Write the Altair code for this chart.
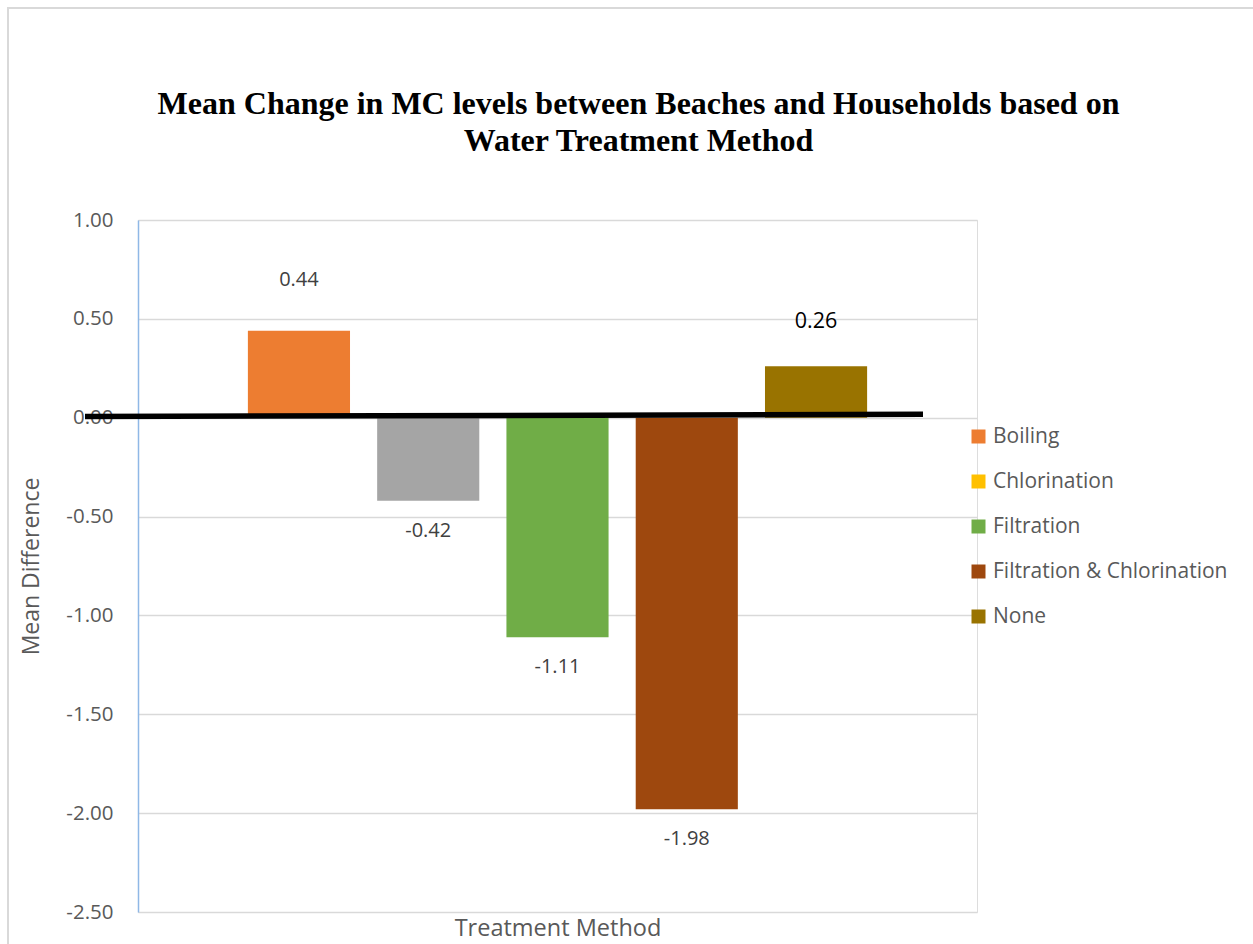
import altair as alt
import pandas as pd

# Mean change in MC levels (beach minus household) by water treatment method
methods = ["Boiling", "Chlorination", "Filtration", "Filtration & Chlorination", "None"]
mean_diff = [0.44, -0.42, -1.11, -1.98, 0.26]

# Series colours shown in the legend; the Chlorination bar itself is drawn grey
legend_colors = ["#ED7D31", "#FFC000", "#70AD47", "#9E480E", "#997300"]
chlorination_bar_color = "#A5A5A5"

y_ticks = [1.0, 0.5, 0.0, -0.5, -1.0, -1.5, -2.0, -2.5]
# the hand-drawn zero line runs very slightly uphill from left to right
zero_line_ends = [0.006, 0.017]

df = pd.DataFrame({
    "method": methods,
    "diff": mean_diff,
    "label": [f"{v:.2f}" for v in mean_diff],
})
one_row = pd.DataFrame({"k": [0]})

FONT = "Open Sans"
GREY_TEXT = "#595959"

x_enc = alt.X(
    "method:N",
    sort=methods,
    scale=alt.Scale(domain=methods, paddingInner=0.21, paddingOuter=0.85),
    axis=alt.Axis(
        title="Treatment Method", labels=False, ticks=False, domain=False, grid=False,
        titleFont=FONT, titleFontSize=23.5, titleFontWeight="normal",
        titleColor=GREY_TEXT, titlePadding=4,
    ),
)
y_enc = alt.Y(
    "diff:Q",
    scale=alt.Scale(domain=[-2.5, 1.0], nice=False, zero=False),
    axis=alt.Axis(
        values=y_ticks,
        labelExpr="replace(format(datum.value, '.2f'), '\u2212', '-')",
        labelFont=FONT, labelFontSize=20.5, labelColor=GREY_TEXT, labelPadding=25,
        ticks=False,
        domainColor="#8FB8E6", domainWidth=1.5,
        grid=True, gridColor="#D9D9D9", gridWidth=1.5,
        title="Mean Difference", titleFont=FONT, titleFontSize=23,
        titleFontWeight="normal", titleColor=GREY_TEXT,
        titleAngle=270, titleX=-107, titleY=346,
        titleAlign="center", titleBaseline="middle",
    ),
)

base = alt.Chart(df)

bars = base.mark_bar().encode(
    x=x_enc,
    y=y_enc,
    color=alt.condition(
        "datum.method === 'Chlorination'",
        alt.value(chlorination_bar_color),
        alt.Color(
            "method:N",
            sort=methods,
            scale=alt.Scale(domain=methods, range=legend_colors),
            legend=alt.Legend(
                title=None, orient="none", legendX=830, legendY=206,
                symbolType="square", symbolSize=196, symbolStrokeWidth=0,
                labelFont=FONT, labelFontSize=21, labelColor=GREY_TEXT,
                labelOffset=4, rowPadding=23, labelLimit=400,
            ),
        ),
    ),
)

label_style = dict(font=FONT, fontSize=20, color="#404040", baseline="middle")

neg_labels = base.transform_filter("datum.diff < 0").mark_text(dy=30, **label_style).encode(
    x=x_enc, y="diff:Q", text="label:N"
)
boiling_label = base.transform_filter("datum.method === 'Boiling'").mark_text(
    dy=-51, **label_style
).encode(x=x_enc, y="diff:Q", text="label:N")
none_label = base.transform_filter("datum.method === 'None'").mark_text(
    dy=-44, font=FONT, fontSize=21.5, color="#000000", baseline="middle"
).encode(x=x_enc, y="diff:Q", text="label:N")

zero_line = alt.Chart(one_row).mark_rule(color="#000000", strokeWidth=5.5, strokeCap="butt").encode(
    x=alt.value(-53), x2=alt.value(785),
    y=alt.datum(zero_line_ends[0]), y2=alt.datum(zero_line_ends[1]),
)

# light outline of the chart area
frame = alt.Chart(one_row).mark_rect(
    fillOpacity=0, stroke="#D9D9D9", strokeWidth=2
).encode(
    x=alt.value(-130), x2=alt.value(1125),
    y=alt.value(-212), y2=alt.value(760),
)

chart = alt.layer(frame, bars, neg_labels, boiling_label, none_label, zero_line).properties(
    width=839,
    height=692,
    title=alt.TitleParams(
        text=["Mean Change in MC levels between Beaches and Households based on",
              "Water Treatment Method"],
        font="Liberation Serif", fontSize=32, fontWeight="bold", color="#000000",
        anchor="middle", frame="group", dx=81, baseline="alphabetic",
        offset=-176, lineHeight=37.5,
    ),
    autosize=alt.AutoSizeParams(type="none"),
    padding={"left": 138, "top": 220, "right": 276, "bottom": 40},
).configure_view(stroke="transparent", strokeWidth=0).configure(background="#FFFFFF")

chart.save("out.html", embed_options={"renderer": "svg", "actions": False})
